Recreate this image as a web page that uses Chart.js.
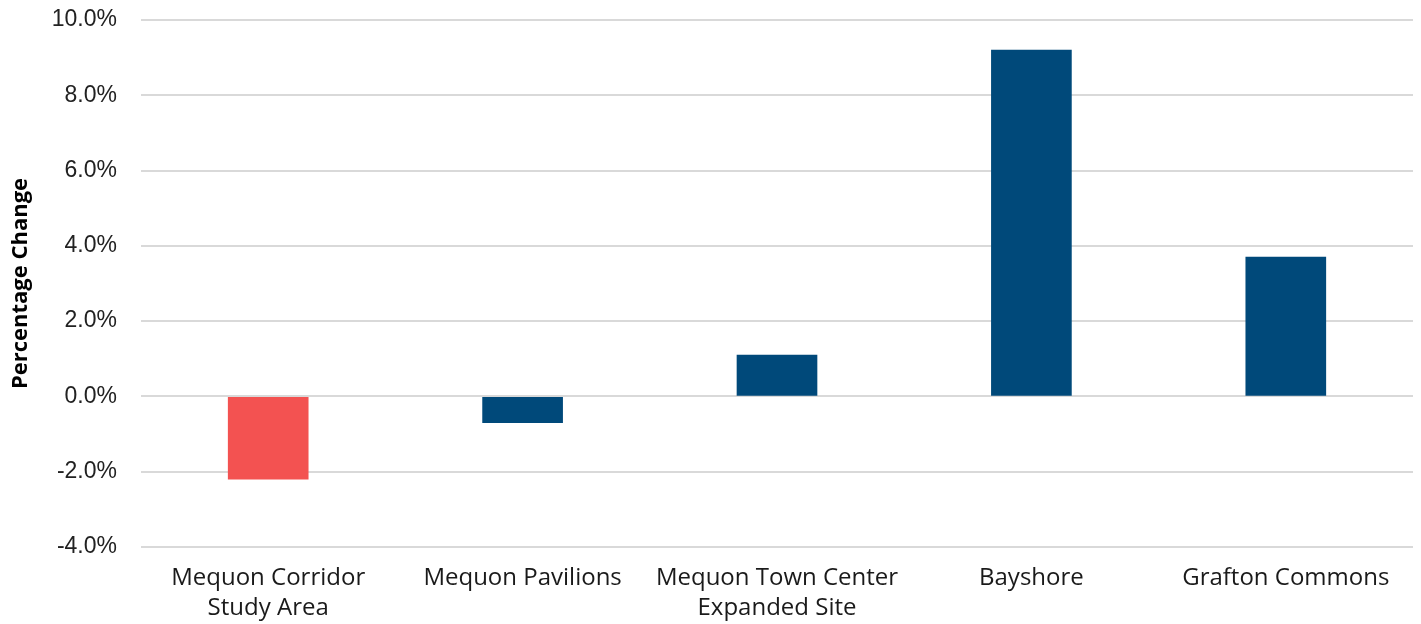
<!DOCTYPE html>
<html>
<head>
<meta charset="utf-8">
<script src="https://cdn.jsdelivr.net/npm/chart.js@4/dist/chart.umd.min.js"></script>
<style>
  body { margin: 0; background: #fff; }
  #wrap { width: 1421px; height: 624px; position: relative; }
</style>
</head>
<body>
<div id="wrap"><canvas id="chart"></canvas></div>
<script>
// categories and values (percentage change)
const categories = [
  ['Mequon Corridor', 'Study Area'],
  'Mequon Pavilions',
  ['Mequon Town Center', 'Expanded Site'],
  'Bayshore',
  'Grafton Commons'
];
const pctChange = [-2.2, -0.7, 1.1, 9.2, 3.7];
const barColors = ['#F35251', '#00497A', '#00497A', '#00497A', '#00497A'];
const yMin = -4, yMax = 10, yStep = 2;

const canvas = document.querySelector('#chart');
const chart = new Chart(canvas, {
  type: 'bar',
  data: {
    labels: categories,
    datasets: [{
      label: 'Percentage Change',
      data: pctChange,
      backgroundColor: barColors,
      barThickness: 80
    }]
  },
  options: {
    responsive: true,
    maintainAspectRatio: false,
    animation: false,
    layout: { padding: { top: 20, right: 8, left: 0, bottom: 0 } },
    plugins: {
      legend: { display: false },
      tooltip: { enabled: false }
    },
    scales: {
      x: {
        grid: { display: false, drawTicks: false },
        border: { display: false },
        ticks: {
          color: '#1a1a1a',
          font: { family: 'Open Sans', size: 24, lineHeight: 1.25 },
          padding: 16,
          maxRotation: 0,
          autoSkip: false
        },
        afterFit: (s) => { s.height = 77; s.paddingLeft = 0; s.paddingRight = 0; }
      },
      y: {
        min: yMin,
        max: yMax,
        grid: { color: '#d9d9d9', lineWidth: 2, drawTicks: false },
        border: { display: false },
        ticks: {
          stepSize: yStep,
          color: '#222',
          padding: 24,
          font: { family: '"Liberation Sans", Arial, sans-serif', size: 23 },
          callback: (v) => v.toFixed(1) + '%'
        },
        title: {
          display: true,
          text: 'Percentage Change',
          color: '#000',
          font: { family: 'Open Sans', size: 22, weight: 'bold' },
          padding: { top: 8, bottom: 0 }
        },
        afterFit: (s) => { s.width = 141; s.paddingTop = 0; s.paddingBottom = 0; }
      }
    }
  }
});
</script>
</body>
</html>
